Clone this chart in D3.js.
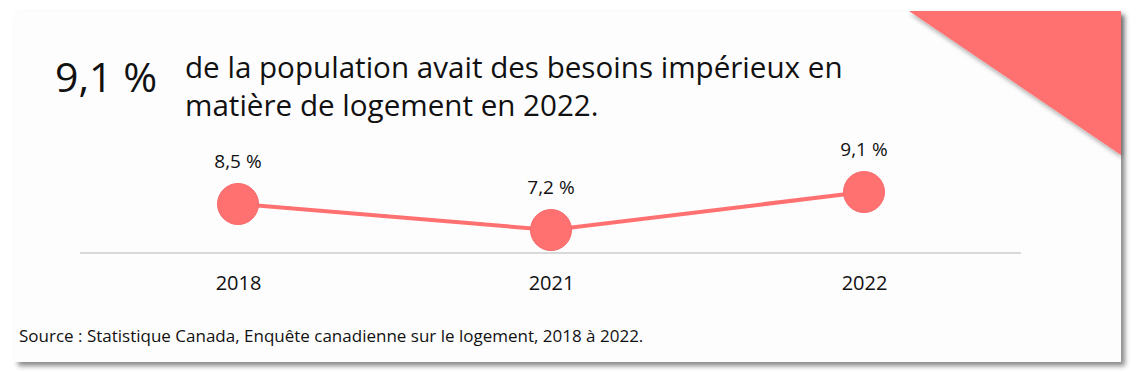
<!DOCTYPE html>
<html><head><meta charset="utf-8">
<script src="https://cdn.jsdelivr.net/npm/d3@7"></script>
<style>html,body{margin:0;padding:0;background:#fff;}svg{display:block;}</style>
</head><body>
<svg id="c" width="1140" height="382"></svg>
<script>
const years = ["2018", "2021", "2022"];
const values = [8.5, 7.2, 9.1];
const valueLabels = ["8,5 %", "7,2 %", "9,1 %"];
const headlineValue = "9,1 %";
const headlineLines = ["de la population avait des besoins impérieux en", "matière de logement en 2022."];
const sourceText = "Source : Statistique Canada, Enquête canadienne sur le logement, 2018 à 2022.";

const svg = d3.select("#c");
const font = "'Open Sans', 'Noto Sans', sans-serif";
const red = "#ff7171";

const defs = svg.append("defs");
const f = defs.append("filter").attr("id","sh").attr("x","-5%").attr("y","-10%").attr("width","110%").attr("height","125%");
f.append("feDropShadow").attr("dx",4).attr("dy",4).attr("stdDeviation",2.5).attr("flood-color","#000").attr("flood-opacity",0.45);
const f2 = defs.append("filter").attr("id","sh2").attr("x","-10%").attr("y","-10%").attr("width","130%").attr("height","130%");
f2.append("feDropShadow").attr("dx",1).attr("dy",3).attr("stdDeviation",2).attr("flood-color","#000").attr("flood-opacity",0.3);

// card
const card = {x:14, y:11, w:1107, h:351};
svg.append("rect").attr("x",card.x).attr("y",card.y).attr("width",card.w).attr("height",card.h)
  .attr("fill","#fefdfe").attr("filter","url(#sh)");

// corner triangle
svg.append("path")
  .attr("d", `M909,${card.y} L${card.x+card.w},${card.y} L${card.x+card.w},155 Z`)
  .attr("fill", red).attr("filter","url(#sh2)");

// headline
svg.append("text").attr("x",55).attr("y",92).attr("font-family",font).attr("font-size",41)
  .attr("fill","#111").text(headlineValue);
svg.append("g").selectAll("text").data(headlineLines).join("text")
  .attr("x",185).attr("y",(d,i)=>78+i*38).attr("font-family",font).attr("font-size",29.6)
  .attr("fill","#111").text(d=>d);

// scales
const x = d3.scalePoint().domain(years).range([238, 864]);
const y = d3.scaleLinear().domain([7.2, 9.1]).range([230, 192]);

// baseline axis
const axisG = svg.append("g").attr("transform","translate(0,253)");
const xAxis = d3.axisBottom(x).tickSize(0).tickPadding(23);
axisG.call(xAxis);
axisG.select(".domain").remove();
axisG.append("line").attr("x1",80).attr("x2",1021).attr("stroke","#d9d9d9").attr("stroke-width",2);
axisG.selectAll(".tick text").attr("font-family",font).attr("font-size",20).attr("fill","#111");

const data = years.map((yr,i)=>({yr, v:values[i], lab:valueLabels[i]}));

svg.append("path").datum(data)
  .attr("d", d3.line().x(d=>x(d.yr)).y(d=>y(d.v)))
  .attr("fill","none").attr("stroke",red).attr("stroke-width",4);

svg.append("g").selectAll("circle").data(data).join("circle")
  .attr("cx",d=>x(d.yr)).attr("cy",d=>y(d.v)).attr("r",20.5)
  .attr("fill",red).attr("stroke","#f56a6a").attr("stroke-width",1);

svg.append("g").selectAll("text").data(data).join("text")
  .attr("x",d=>x(d.yr)).attr("y",d=>y(d.v)-36).attr("text-anchor","middle")
  .attr("font-family",font).attr("font-size",19).attr("fill","#111").text(d=>d.lab);

svg.append("text").attr("x",19).attr("y",342).attr("font-family",font).attr("font-size",17)
  .attr("fill","#111").text(sourceText);
</script>
</body></html>
